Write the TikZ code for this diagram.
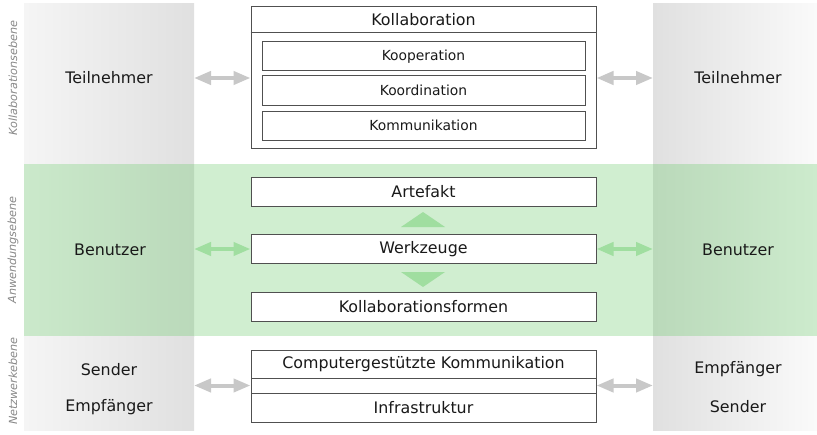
\documentclass[tikz,border=0pt]{standalone}
\usepackage{fontspec}
\setmainfont{DejaVu Sans}
\usetikzlibrary{arrows.meta}
\definecolor{band}{HTML}{D0EED0}
\definecolor{gcolL}{HTML}{F5F5F5}
\definecolor{gcolR}{HTML}{E0E0E0}
\definecolor{gcolRR}{HTML}{FAFAFA}
\definecolor{bandL}{HTML}{CBE9CB}
\definecolor{bandR}{HTML}{BAD9BA}
\definecolor{bandRR}{HTML}{CDEBCD}
\definecolor{arrgray}{HTML}{C8C8C8}
\definecolor{arrgreen}{HTML}{A0DEA0}
\definecolor{boxline}{HTML}{505050}
\definecolor{lvl}{HTML}{888888}
\def\px{0.75pt}
\begin{document}
\begin{tikzpicture}[x=0.75pt,y=-0.75pt,
  big/.style={font=\fontsize{11.9}{14}\selectfont, text=black!90},
  small/.style={font=\fontsize{10.4}{12}\selectfont, text=black!90},
  level/.style={font=\fontsize{8.4}{10}\selectfont\itshape, text=lvl, rotate=90},
  box/.style={draw=boxline, fill=white, line width=0.75pt, inner sep=0pt},
  wbox/.style={box, big, minimum width=345*\px},
  ibox/.style={box, small, minimum width=323*\px, minimum height=29*\px},
  garrow/.style={draw=arrgray, line width=3pt, {Triangle[length=12.75pt,width=9.75pt]}-{Triangle[length=12.75pt,width=9.75pt]}},
  greenarrow/.style={garrow, draw=arrgreen},
  tri/.style={fill=arrgreen}
]
\useasboundingbox (0,0) rectangle (817,435);
\fill[white] (0,0) rectangle (817,435);
% green band
\fill[band] (24,164) rectangle (817,336);
% left column
\shade[left color=gcolL, right color=gcolR] (24,4) rectangle (194,164);
\shade[left color=bandL, right color=bandR] (24,164) rectangle (194,336);
\shade[left color=gcolL, right color=gcolR] (24,336) rectangle (194,430);
% right column
\shade[left color=gcolR, right color=gcolRR] (653,4) rectangle (817,164);
\shade[left color=bandR, right color=bandRR] (653,164) rectangle (817,336);
\shade[left color=gcolR, right color=gcolRR] (653,336) rectangle (817,430);

% level labels
\node[level] (lv1) at (13,78) {Kollaborationsebene};
\node[level] (lv2) at (13,250) {Anwendungsebene};
\node[level] (lv3) at (13,381) {Netzwerkebene};

% side labels
\node[big] (tl) at (109,78) {Teilnehmer};
\node[big] (bl) at (110,250) {Benutzer};
\node[big] (sl) at (109,370) {Sender};
\node[big] (el) at (109,407) {Empfänger};
\node[big] (tr) at (738,78) {Teilnehmer};
\node[big] (br) at (738,250) {Benutzer};
\node[big] (er) at (738,369) {Empfänger};
\node[big] (sr) at (738,407) {Sender};

% top block
\node[box, minimum width=345*\px, minimum height=141*\px] (kollab) at (423.5,77.5) {};
\node[big] (kollabt) at (423.5,20) {Kollaboration};
\coordinate (hl) at (423.5,33);
\draw[draw=boxline, line width=0.75pt] (kollab.west |- hl) -- (kollab.east |- hl);
\node[ibox] (koop) at (423.5,56.5) {Kooperation};
\node[ibox] (koord) at (423.5,90.5) {Koordination};
\node[ibox] (komm) at (423.5,125.5) {Kommunikation};

% middle block
\node[wbox, minimum height=29*\px] (art) at (423.5,191.5) {Artefakt};
\node[wbox, minimum height=29*\px] (werk) at (423.5,249) {Werkzeuge};
\node[wbox, minimum height=29*\px] (form) at (423.5,306.5) {Kollaborationsformen};
\fill[tri] (401,227) -- (445,227) -- (423,212) -- cycle;
\fill[tri] (401,272) -- (445,272) -- (423,287) -- cycle;

% bottom block
\node[wbox, minimum height=28*\px] (comp) at (423.5,364) {Computergestützte Kommunikation};
\node[wbox, minimum height=15*\px] (gap) at (423.5,385.5) {};
\node[wbox, minimum height=29*\px] (infra) at (423.5,407.5) {Infrastruktur};

% arrow end points at the columns
\coordinate (lc1) at (194,78);
\coordinate (rc1) at (653,78);
\coordinate (lc2) at (194,249);
\coordinate (rc2) at (653,249);
\coordinate (lc3) at (194,385.5);
\coordinate (rc3) at (653,385.5);

\draw[garrow] (lc1) -- (kollab.west |- lc1);
\draw[garrow] (kollab.east |- rc1) -- (rc1);
\draw[greenarrow] (lc2) -- (werk.west);
\draw[greenarrow] (werk.east) -- (rc2);
\draw[garrow] (lc3) -- (gap.west);
\draw[garrow] (gap.east) -- (rc3);
\end{tikzpicture}
\end{document}
